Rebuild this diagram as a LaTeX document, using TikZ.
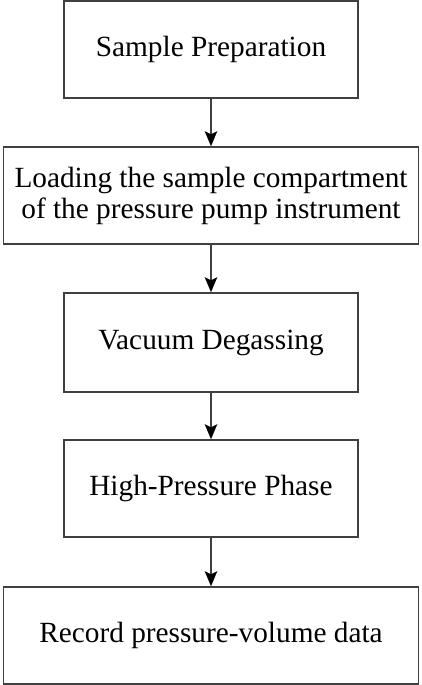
\documentclass[tikz,border=0pt]{standalone}
\usepackage{fontspec}
\setmainfont{Liberation Serif}
\usetikzlibrary{arrows.meta}
\begin{document}
\begin{tikzpicture}[x=1bp,y=1bp,
  line width=1.5bp,
  step box/.style={rectangle,draw=black!75,inner sep=0pt,align=center,
    font=\fontsize{29.3bp}{31bp}\selectfont,minimum height=97bp},
  short box/.style={step box,minimum width=294bp},
  long box/.style={step box,minimum width=415bp},
  flow/.style={draw=black!75,-{Stealth[length=15bp,width=12.5bp,inset=3bp,color=black]}}]

  \useasboundingbox (0,0) rectangle (421,-685);

  \node[short box] (prep) at (211,-49.5) {Sample Preparation};
  \node[long box] (load) at (211,-195.5) {Loading the sample compartment\\of the pressure pump instrument};
  \node[short box,minimum height=99bp] (vac) at (211,-342.5) {Vacuum Degassing};
  \node[short box] (high) at (211,-488.5) {High-Pressure Phase};
  \node[long box] (rec) at (211,-635.5) {Record pressure-volume data};

  \path[flow]
   (prep) edge (load)
   (load) edge (vac)
   (vac) edge (high)
   (high) edge (rec);
\end{tikzpicture}
\end{document}
